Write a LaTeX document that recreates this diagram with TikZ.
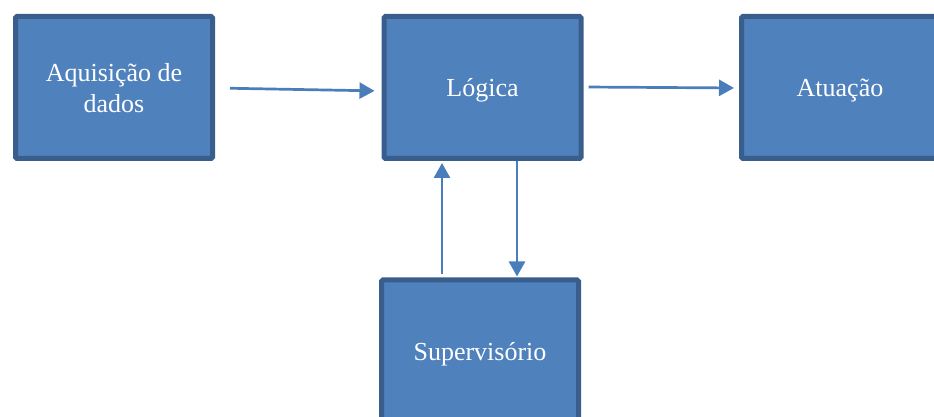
\documentclass[tikz,border=0pt]{standalone}
\usepackage{fontspec}
\setmainfont{Liberation Serif}
\usepackage{xcolor}
\usetikzlibrary{positioning,arrows.meta}

\definecolor{boxfill}{RGB}{79,129,189}
\definecolor{boxline}{RGB}{58,94,139}
\definecolor{arrowblue}{RGB}{74,126,187}

\begin{document}
\begin{tikzpicture}[
    x=1pt, y=1pt,
    node distance=360pt,
    block/.style={rectangle, draw=boxline, fill=boxfill, line width=5pt, rounded corners=1.5pt,
        minimum width=197pt, minimum height=142pt, align=center, text=white, text depth=0pt,
        font=\fontsize{26}{31}\selectfont},
    arrow/.style={-{Triangle[length=15pt, width=16pt]}, line width=2.7pt, draw=arrowblue}
]
    \useasboundingbox (0,0) rectangle (934,417);
    % Blocks
    \node[block] (aquis) at (114,329.5) {Aquisição de\\dados};
    \node[block, right of=aquis, xshift=8.5pt] (logica) {Lógica};
    \node[block, right of=logica, xshift=-2.5pt] (atua) {Atuação};
    \node[block, below of=logica, node distance=263.5pt, xshift=-2.5pt] (superv) {Supervisório};
    % Feedback points under Logica
    \coordinate (upx) at ([xshift=-40.5pt]logica.south);
    \coordinate (downx) at ([xshift=34.5pt]logica.south);
    % Arrows
    \draw[arrow, shorten <=15pt, shorten >=7pt] ([yshift=-0.5pt]aquis.east) -- ([yshift=-3.5pt]logica.west);
    \draw[arrow, shorten <=5pt, shorten >=5pt] ([yshift=0.5pt]logica.east) -- ([yshift=-0.5pt]atua.west);
    \draw[arrow, shorten <=3pt, shorten >=2pt] (superv.north -| upx) -- (upx);
    \draw[arrow, shorten >=1pt] (downx) -- (superv.north -| downx);
\end{tikzpicture}
\end{document}
